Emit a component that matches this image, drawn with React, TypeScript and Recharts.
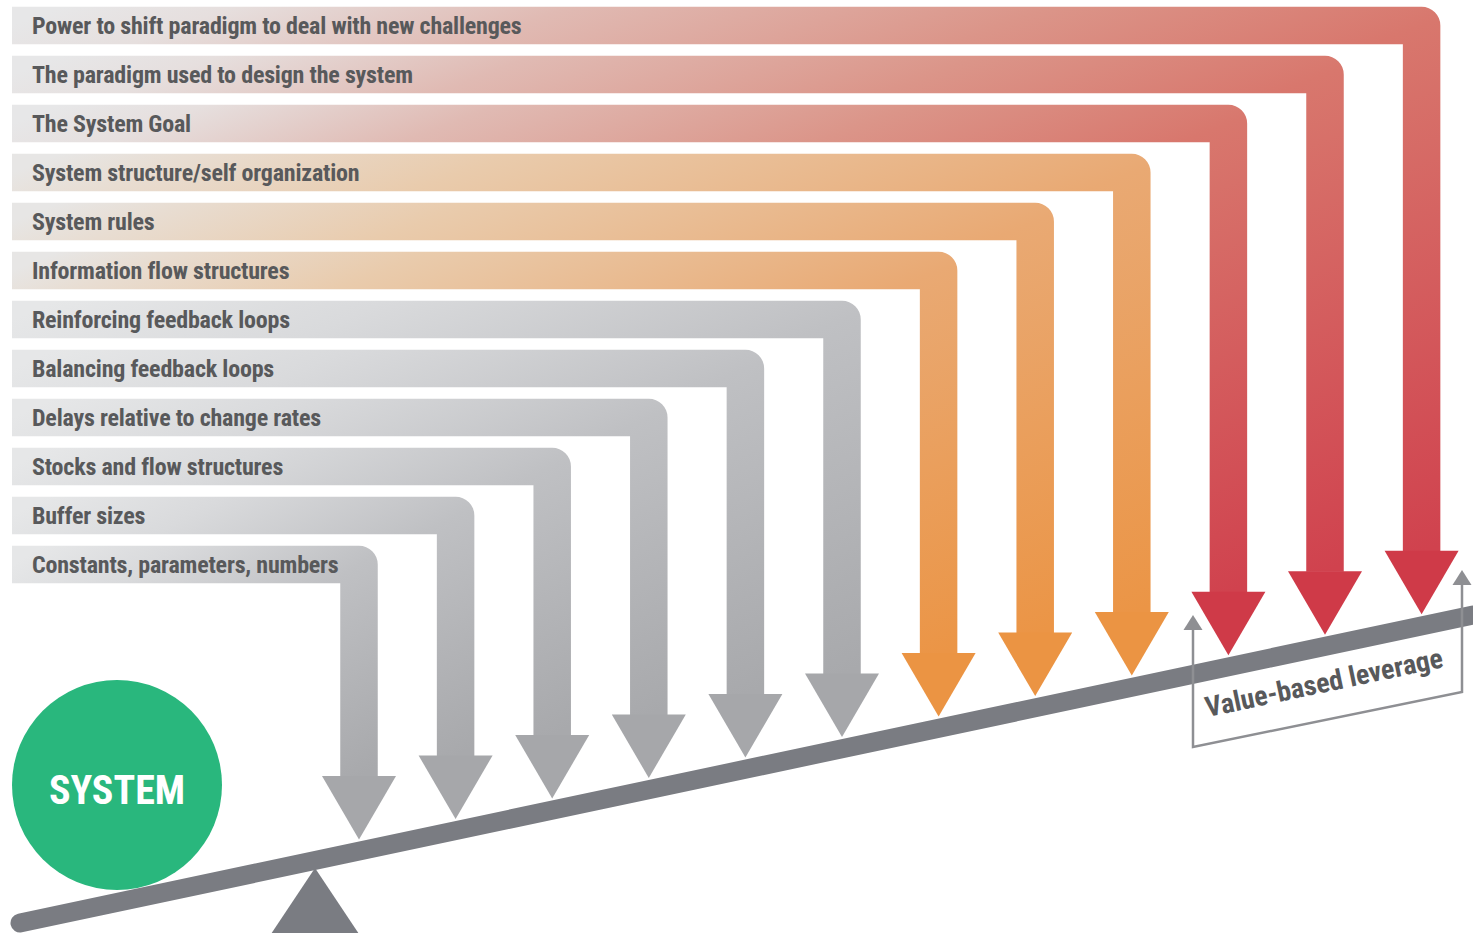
import React from 'react';
import { ComposedChart, Line, Scatter, XAxis, YAxis } from 'recharts';

// leverage points, top (highest leverage) to bottom
const LEVERAGE_POINTS = [
  'Power to shift paradigm to deal with new challenges',
  'The paradigm used to design the system',
  'The System Goal',
  'System structure/self organization',
  'System rules',
  'Information flow structures',
  'Reinforcing feedback loops',
  'Balancing feedback loops',
  'Delays relative to change rates',
  'Stocks and flow structures',
  'Buffer sizes',
  'Constants, parameters, numbers',
];
const LEVERAGE_RANK = [12, 11, 10, 9, 8, 7, 6, 5, 4, 3, 2, 1];
const LEVERAGE_GROUP = [
  'value', 'value', 'value',
  'structure', 'structure', 'structure',
  'parameter', 'parameter', 'parameter', 'parameter', 'parameter', 'parameter',
];

const GROUP_STYLE: Record<string, { stops: [number, string][]; head: string }> = {
  value: {
    stops: [[0, '#e7e7e8'], [0.06, '#e6dfde'], [0.18, '#e0bab3'], [0.35, '#db9589'], [0.5, '#d8776d'], [1, '#d0424e']],
    head: '#cf3a48',
  },
  structure: {
    stops: [[0, '#e7e6e5'], [0.06, '#e8ddd2'], [0.2, '#e9cbac'], [0.5, '#e9a973'], [1, '#eb9546']],
    head: '#eb9443',
  },
  parameter: {
    stops: [[0, '#e6e7e8'], [0.2, '#d9dadc'], [0.5, '#bfc0c3'], [1, '#a8a9ac']],
    head: '#a6a7aa',
  },
};

// drawing grid: one unit = one pixel of the canvas
const W = 1473;
const H = 933;
const BAND_START = 12;
const ROW_TOP = 25.5;
const ROW_STEP = 49;
const STEM_FIRST = 359;
const STEM_STEP = 96.6;
const BAND_W = 37.5;
const HEAD_W = 74;
const HEAD_H = 63;
const LEVER = [{ x: 20, y: 923 }, { x: 1473, y: 615 }];
const LEVER_W = 19;
const BRACKET = [{ x: 1193, y: 630 }, { x: 1193, y: 747 }, { x: 1462, y: 692 }, { x: 1462, y: 585 }];
const SYSTEM = [{ x: 117, y: 785 }];
const FULCRUM = [{ x: 315, y: 868 }];
const BRACKET_TEXT = [{ x: 1326, y: 692 }];

const FONT = "'Roboto Condensed', Roboto, sans-serif";
const TEXT_COLOR = '#58595b';

const leverSlope = (LEVER[1].y - LEVER[0].y) / (LEVER[1].x - LEVER[0].x);
const leverTop = (x: number) =>
  LEVER[0].y + (x - LEVER[0].x) * leverSlope - (LEVER_W / 2) * Math.sqrt(1 + leverSlope * leverSlope);

const rowY = (rank: number) => ROW_TOP + (LEVERAGE_RANK[0] - rank) * ROW_STEP;
const stemX = (rank: number) => STEM_FIRST + (rank - 1) * STEM_STEP;

const levels = LEVERAGE_POINTS.map((label, i) => {
  const rank = LEVERAGE_RANK[i];
  const x = stemX(rank);
  const y = rowY(rank);
  const tip = leverTop(x) - 2;
  return {
    label,
    group: LEVERAGE_GROUP[i],
    data: [
      { x: BAND_START, y, label },
      { x, y },
      { x, y: tip - HEAD_H },
    ],
  };
});

const angle = (Math.atan(leverSlope) * 180) / Math.PI;

export default function App() {
  return (
    <div style={{ position: 'absolute', left: 0, top: 0, background: '#fff' }}>
      <ComposedChart width={W} height={H} margin={{ top: 0, right: 0, bottom: 0, left: 0 }}>
        <defs>
          {Object.entries(GROUP_STYLE).map(([g, s]) => (
            <linearGradient key={g} id={`grad-${g}`} x1="0" y1="0" x2="1" y2="1">
              {s.stops.map(([o, c]) => (
                <stop key={o} offset={o} stopColor={c} />
              ))}
            </linearGradient>
          ))}
        </defs>
        <XAxis type="number" dataKey="x" domain={[0, W]} allowDataOverflow hide />
        <YAxis type="number" dataKey="y" domain={[0, H]} reversed allowDataOverflow hide />

        {/* fulcrum */}
        <Scatter
          data={FULCRUM}
          isAnimationActive={false}
          shape={(p: any) => (
            <polygon points={`${p.cx},${p.cy} ${p.cx - 44},${p.cy + 66} ${p.cx + 44},${p.cy + 66}`} fill="#7a7c82" />
          )}
        />

        {/* lever */}
        <Line
          data={LEVER}
          dataKey="y"
          type="linear"
          stroke="#7a7c82"
          strokeWidth={LEVER_W}
          strokeLinecap="round"
          dot={false}
          activeDot={false}
          isAnimationActive={false}
        />

        {/* system */}
        <Scatter
          data={SYSTEM}
          isAnimationActive={false}
          shape={(p: any) => (
            <g>
              <circle cx={p.cx} cy={p.cy} r={105} fill="#29b77d" />
              <text
                x={p.cx}
                y={p.cy + 19}
                textAnchor="middle"
                fill="#fff"
                fontFamily={FONT}
                fontStretch="condensed"
                fontWeight={700}
                fontSize={40}
              >
                SYSTEM
              </text>
            </g>
          )}
        />

        {levels.map((lv) => (
          <Line
            key={lv.label}
            data={lv.data}
            dataKey="y"
            type="linear"
            stroke={`url(#grad-${lv.group})`}
            strokeWidth={BAND_W}
            strokeLinejoin="round"
            strokeLinecap="butt"
            activeDot={false}
            isAnimationActive={false}
            dot={(p: any) => {
              if (p.index === 0) {
                return (
                  <text
                    key={`l-${lv.label}`}
                    x={p.cx + 20}
                    y={p.cy + 8.5}
                    fill={TEXT_COLOR}
                    fontFamily={FONT}
                    fontStretch="condensed"
                    fontWeight={700}
                    fontSize={24}
                    letterSpacing={-0.2}
                  >
                    {lv.label}
                  </text>
                );
              }
              if (p.index === 2) {
                return (
                  <polygon
                    key={`h-${lv.label}`}
                    points={`${p.cx - HEAD_W / 2},${p.cy - 0.5} ${p.cx + HEAD_W / 2},${p.cy - 0.5} ${p.cx},${p.cy + HEAD_H}`}
                    fill={GROUP_STYLE[lv.group].head}
                  />
                );
              }
              return <g key={`n-${lv.label}-${p.index}`} />;
            }}
          />
        ))}

        {/* value-based leverage bracket */}
        <Line
          data={BRACKET}
          dataKey="y"
          type="linear"
          stroke="#8e8f93"
          strokeWidth={2.5}
          activeDot={false}
          isAnimationActive={false}
          dot={(p: any) =>
            p.index === 0 || p.index === 3 ? (
              <polygon
                key={`b-${p.index}`}
                points={`${p.cx - 9.5},${p.cy} ${p.cx + 9.5},${p.cy} ${p.cx},${p.cy - 15}`}
                fill="#8e8f93"
              />
            ) : (
              <g key={`b-${p.index}`} />
            )
          }
        />
        <Scatter
          data={BRACKET_TEXT}
          isAnimationActive={false}
          shape={(p: any) => (
            <text
              x={p.cx}
              y={p.cy}
              textAnchor="middle"
              transform={`rotate(${angle}, ${p.cx}, ${p.cy})`}
              fill={TEXT_COLOR}
              fontFamily={FONT}
              fontStretch="condensed"
              fontWeight={700}
              fontSize={28}
            >
              Value-based leverage
            </text>
          )}
        />
      </ComposedChart>
    </div>
  );
}
